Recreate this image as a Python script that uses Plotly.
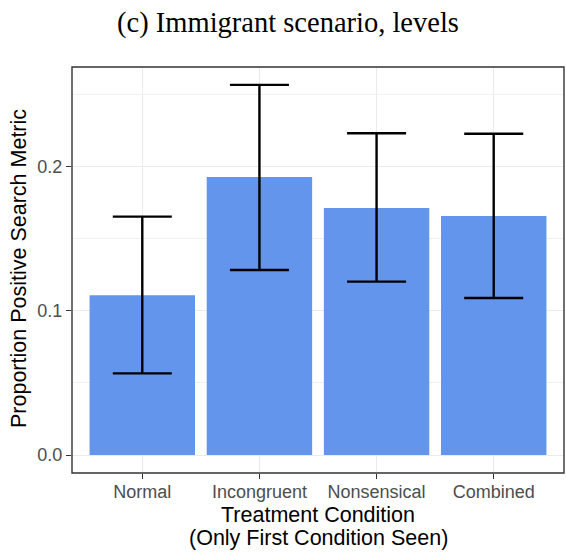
import plotly.graph_objects as go

# Treatment conditions and estimated proportions with confidence limits
conditions = ["Normal", "Incongruent", "Nonsensical", "Combined"]
proportion = [0.111, 0.193, 0.1715, 0.166]
ci_low = [0.0567, 0.1285, 0.1204, 0.109]
ci_high = [0.1655, 0.257, 0.2234, 0.2231]

y_tickvals = [0.0, 0.1, 0.2]
y_ticktext = ["0.0", "0.1", "0.2"]

err_plus = [h - p for h, p in zip(ci_high, proportion)]
err_minus = [p - l for p, l in zip(proportion, ci_low)]

fig = go.Figure(
    go.Bar(
        x=conditions,
        y=proportion,
        marker=dict(color="#6495ED", line=dict(width=0)),
        error_y=dict(
            type="data",
            symmetric=False,
            array=err_plus,
            arrayminus=err_minus,
            color="black",
            thickness=2.4,
            width=29.5,
        ),
        hoverinfo="skip",
    )
)

axis_font = "Liberation Sans, Arial, sans-serif"
W, H = 566, 554
L, R, T, B = 72, 2, 67, 81
pw, ph = W - L - R, H - T - B


def px_x(x):
    return (x - L) / pw


def px_y(y):
    return (H - B - y) / ph


title_font = dict(family=axis_font, size=21.5, color="black")

fig.update_layout(
    width=W,
    height=H,
    margin=dict(l=L, r=R, t=T, b=B),
    paper_bgcolor="white",
    plot_bgcolor="white",
    bargap=0.1,
    showlegend=False,
    title=dict(
        text="(c) Immigrant scenario, levels",
        font=dict(family="Liberation Serif, Times New Roman, serif", size=28.5, color="black"),
        xref="container",
        yref="container",
        x=288 / W,
        xanchor="center",
        y=1 - 22 / H,
        yanchor="middle",
    ),
    xaxis=dict(
        range=[-0.6, 3.6],
        automargin=False,
        showgrid=True,
        gridcolor="#EBEBEB",
        gridwidth=1.2,
        zeroline=False,
        showline=False,
        ticks="outside",
        ticklen=5,
        tickwidth=1.1,
        tickcolor="#333333",
        ticklabelstandoff=-3,
        tickfont=dict(family=axis_font, size=18, color="#4D4D4D"),
    ),
    yaxis=dict(
        range=[-0.0125, 0.2694],
        automargin=False,
        tickvals=y_tickvals,
        ticktext=y_ticktext,
        showgrid=True,
        gridcolor="#EBEBEB",
        gridwidth=1.2,
        minor=dict(
            dtick=0.05,
            tick0=0,
            showgrid=True,
            gridcolor="#F0F0F0",
            gridwidth=0.7,
            ticks="",
        ),
        zeroline=False,
        showline=False,
        ticks="outside",
        ticklen=5,
        tickwidth=1.1,
        tickcolor="#333333",
        tickfont=dict(family=axis_font, size=18, color="#4D4D4D"),
    ),
    annotations=[
        dict(
            text="Treatment Condition",
            xref="paper", yref="paper",
            x=0.5, y=px_y(515),
            xanchor="center", yanchor="middle",
            showarrow=False, font=title_font,
        ),
        dict(
            text="(Only First Condition Seen)",
            xref="paper", yref="paper",
            x=0.5, y=px_y(538),
            xanchor="center", yanchor="middle",
            showarrow=False, font=title_font,
        ),
        dict(
            text="Proportion Positive Search Metric",
            xref="paper", yref="paper",
            x=px_x(19), y=px_y(269),
            xanchor="center", yanchor="middle",
            textangle=-90,
            showarrow=False, font=title_font,
        ),
    ],
    shapes=[
        dict(
            type="rect",
            xref="paper",
            yref="paper",
            x0=0,
            x1=1,
            y0=0,
            y1=1,
            line=dict(color="#333333", width=1.4),
            fillcolor="rgba(0,0,0,0)",
            layer="above",
        )
    ],
)

fig.write_html("out.html")
